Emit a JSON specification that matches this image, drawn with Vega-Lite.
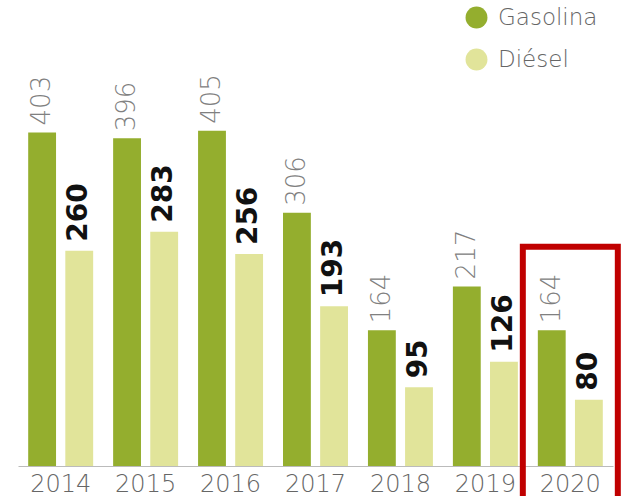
{
  "$schema": "https://vega.github.io/schema/vega-lite/v6.json",
  "width": 595,
  "height": 466,
  "autosize": "none",
  "padding": {"left": 18, "top": 0, "right": 8, "bottom": 30},
  "background": "white",
  "config": {"view": {"stroke": null}, "font": "DejaVu Sans"},
  "datasets": {
    "fuel": [
      {"year": "2014", "tipo": "Gasolina", "valor": 403},
      {"year": "2014", "tipo": "Diésel", "valor": 260},
      {"year": "2015", "tipo": "Gasolina", "valor": 396},
      {"year": "2015", "tipo": "Diésel", "valor": 283},
      {"year": "2016", "tipo": "Gasolina", "valor": 405},
      {"year": "2016", "tipo": "Diésel", "valor": 256},
      {"year": "2017", "tipo": "Gasolina", "valor": 306},
      {"year": "2017", "tipo": "Diésel", "valor": 193},
      {"year": "2018", "tipo": "Gasolina", "valor": 164},
      {"year": "2018", "tipo": "Diésel", "valor": 95},
      {"year": "2019", "tipo": "Gasolina", "valor": 217},
      {"year": "2019", "tipo": "Diésel", "valor": 126},
      {"year": "2020", "tipo": "Gasolina", "valor": 164},
      {"year": "2020", "tipo": "Diésel", "valor": 80}
    ],
    "highlight": [{"year": "2020", "top": 265, "bottom": -45}]
  },
  "layer": [
    {
      "data": {"name": "fuel"},
      "mark": {"type": "bar"},
      "encoding": {
        "x": {
          "field": "year", "type": "nominal",
          "scale": {"paddingInner": 0.235, "paddingOuter": 0.12},
          "axis": {"title": null, "labelAngle": 0, "ticks": false, "domainColor": "#bbbbbb", "domainWidth": 1,
                   "labelFontSize": 24, "labelFont": "DejaVu Sans", "labelFontWeight": 200, "labelColor": "#666666", "labelPadding": 6}
        },
        "xOffset": {"field": "tipo", "type": "nominal", "scale": {"domain": ["Gasolina", "Diésel"], "paddingInner": 0.25, "paddingOuter": 0}},
        "y": {"field": "valor", "type": "quantitative", "scale": {"domain": [0, 563], "nice": false}, "axis": null},
        "color": {
          "field": "tipo", "type": "nominal",
          "scale": {"domain": ["Gasolina", "Diésel"], "range": ["#94ae2e", "#e1e49a"]},
          "legend": {"title": null, "orient": "none", "legendX": 447, "legendY": 6, "symbolType": "circle", "symbolSize": 480,
                     "symbolStrokeWidth": 0, "labelFontSize": 23, "labelFont": "DejaVu Sans", "labelFontWeight": 200,
                     "labelColor": "#666666", "rowPadding": 18, "labelOffset": 10}
        }
      }
    },
    {
      "data": {"name": "fuel"},
      "transform": [{"filter": "datum.tipo === 'Gasolina'"}],
      "mark": {"type": "text", "angle": 270, "align": "left", "baseline": "middle", "dx": 7, "font": "DejaVu Sans", "fontWeight": 200, "fontSize": 26, "fill": "#808080"},
      "encoding": {
        "x": {"field": "year", "type": "nominal"},
        "xOffset": {"field": "tipo", "type": "nominal", "scale": {"domain": ["Gasolina", "Diésel"]}},
        "y": {"field": "valor", "type": "quantitative"},
        "text": {"field": "valor", "type": "quantitative"}
      }
    },
    {
      "data": {"name": "fuel"},
      "transform": [{"filter": "datum.tipo === 'Diésel'"}],
      "mark": {"type": "text", "angle": 270, "align": "left", "baseline": "middle", "dx": 9, "font": "DejaVu Sans", "fontWeight": "bold", "fontSize": 28, "fill": "#111111"},
      "encoding": {
        "x": {"field": "year", "type": "nominal"},
        "xOffset": {"field": "tipo", "type": "nominal", "scale": {"domain": ["Gasolina", "Diésel"]}},
        "y": {"field": "valor", "type": "quantitative"},
        "text": {"field": "valor", "type": "quantitative"}
      }
    },
    {
      "data": {"name": "highlight"},
      "mark": {"type": "rect", "width": 95, "fillOpacity": 0, "stroke": "#c00000", "strokeWidth": 6},
      "encoding": {
        "x": {"field": "year", "type": "nominal"},
        "y": {"field": "top", "type": "quantitative"},
        "y2": {"field": "bottom"}
      }
    }
  ]
}
